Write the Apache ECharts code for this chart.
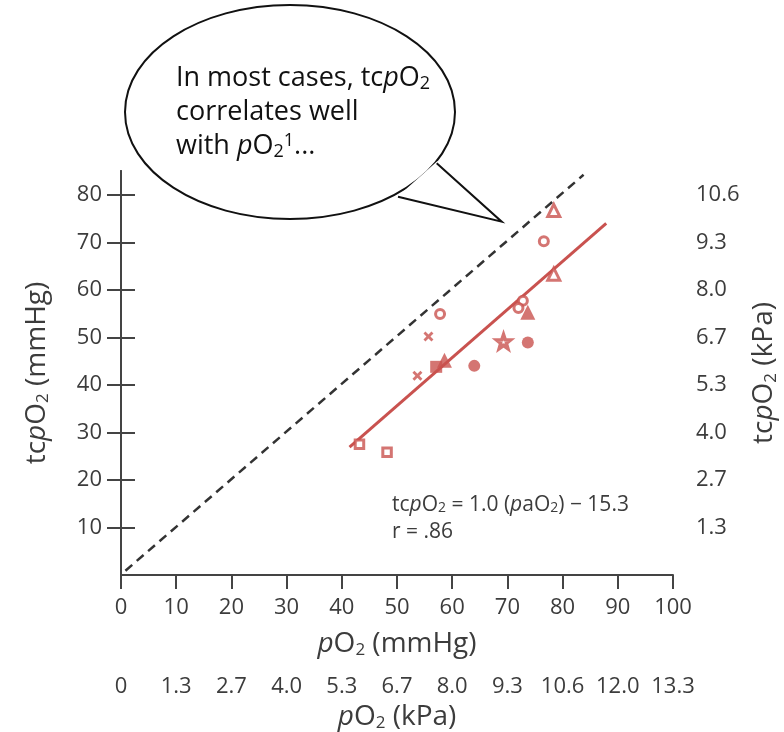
<!DOCTYPE html>
<html><head><meta charset="utf-8">
<script src="https://cdn.jsdelivr.net/npm/echarts@6/dist/echarts.min.js"></script>
<style>html,body{margin:0;padding:0;background:#fff}#c{width:784px;height:732px}</style>
</head><body><div id="c"></div>
<script>
// ---- data (x = pO2 mmHg, y = tcpO2 mmHg) ----
const openTriangle   = [[78.4, 76.7], [78.4, 63.3]];
const openCircle     = [[76.6, 70.2], [72.8, 57.7], [72.0, 56.2], [57.8, 54.9]];
const filledTriangle = [[73.7, 55.3], [58.6, 45.2]];
const crossPts       = [[55.7, 50.2], [53.7, 41.9]];
const starPts        = [[69.3, 49.1]];
const filledCircle   = [[73.7, 48.9], [64.0, 44.0]];
const filledSquare   = [[57.1, 43.8]];
const openSquare     = [[43.2, 27.5], [48.2, 25.8]];
const regressionLine = [[41.4, 26.9], [87.9, 74.0]];
const identityLine   = [[0.8, 0.9], [83.8, 84.2]];

const xTicks      = [0, 10, 20, 30, 40, 50, 60, 70, 80, 90, 100];
const xKpaLabels  = ['0', '1.3', '2.7', '4.0', '5.3', '6.7', '8.0', '9.3', '10.6', '12.0', '13.3'];
const yTicks      = [10, 20, 30, 40, 50, 60, 70, 80];
const yKpaLabels  = ['1.3', '2.7', '4.0', '5.3', '6.7', '8.0', '9.3', '10.6'];

const RED = '#c9524f';
const FONT = 'Open Sans';
const TXT = '#3c3c3c';
const AX = '#444';
const TICKFS = 22;

const crossPath = 'path://M2,0 L5,3 L8,0 L10,2 L7,5 L10,8 L8,10 L5,7 L2,10 L0,8 L3,5 L0,2 Z';
const starPath = 'path://M10,0 L12.35,6.76 L19.51,6.91 L13.80,11.24 L15.88,18.09 L10,14 L4.12,18.09 L6.20,11.24 L0.49,6.91 L7.65,6.76 Z';

const nameRich = (fs) => ({
  i: {fontStyle: 'italic', fontSize: fs, fontFamily: FONT, color: TXT},
  n: {fontSize: fs, fontFamily: FONT, color: TXT},
  sub: {fontSize: Math.round(fs * 0.62), fontFamily: FONT, color: TXT, padding: [Math.round(fs*0.45), 0, 0, 0]}
});

const chart = echarts.init(document.getElementById('c'), null, {renderer: 'canvas'});
const axisLineStyle = {show: true, lineStyle: {color: AX, width: 2}};
const tickStyle = {show: true, length: 14, lineStyle: {color: AX, width: 2}};

chart.setOption({
  animation: false,
  backgroundColor: '#fff',
  grid: {left: 121, right: 111, top: 171, bottom: 157, containLabel: false, outerBoundsMode: 'none'},
  xAxis: [{
    type: 'value', min: 0, max: 100, interval: 10, position: 'bottom',
    axisLine: axisLineStyle, axisTick: tickStyle, splitLine: {show: false},
    axisLabel: {customValues: xTicks, margin: 22, fontSize: TICKFS, fontFamily: FONT, color: TXT},
    name: '{i|p}{n|O}{sub|2}{n| (mmHg)}', nameLocation: 'middle', nameGap: 54,
    nameTextStyle: {rich: nameRich(28)}
  }, {
    type: 'value', min: 0, max: 100, interval: 10, position: 'bottom', offset: 79,
    axisLine: {show: false}, axisTick: {show: false}, splitLine: {show: false},
    axisLabel: {customValues: xTicks, margin: 22, fontSize: TICKFS, fontFamily: FONT, color: TXT,
      formatter: (v) => xKpaLabels[xTicks.indexOf(v)]},
    name: '{i|p}{n|O}{sub|2}{n| (kPa)}', nameLocation: 'middle', nameGap: 46,
    nameTextStyle: {rich: nameRich(28)}
  }],
  yAxis: [{
    type: 'value', min: 0, max: 85, position: 'left',
    axisLine: axisLineStyle, axisTick: Object.assign({customValues: yTicks}, tickStyle), splitLine: {show: false},
    axisLabel: {customValues: yTicks, margin: 19, fontSize: TICKFS, fontFamily: FONT, color: TXT},
    name: '{n|tc}{i|p}{n|O}{sub|2}{n| (mmHg)}', nameLocation: 'middle', nameGap: 69, nameRotate: 90,
    nameTextStyle: {rich: nameRich(28)}
  }, {
    type: 'value', min: 0, max: 85, position: 'right',
    axisLine: axisLineStyle, axisTick: Object.assign({customValues: yTicks}, tickStyle), splitLine: {show: false},
    axisLabel: {customValues: yTicks, margin: 23, fontSize: TICKFS, fontFamily: FONT, color: TXT,
      formatter: (v) => yKpaLabels[yTicks.indexOf(v)]},
    name: '{n|tc}{i|p}{n|O}{sub|2}{n| (kPa)}', nameLocation: 'middle', nameGap: 65, nameRotate: 90,
    nameTextStyle: {rich: nameRich(28)}
  }],
  series: [
    {type: 'line', data: identityLine, symbol: 'none', lineStyle: {color: '#333', width: 2.5, type: [9, 6]}, z: 1},
    {type: 'line', data: regressionLine, symbol: 'none', lineStyle: {color: RED, width: 3}, z: 2},
    {type: 'scatter', data: openTriangle, symbol: 'triangle', symbolSize: 12, itemStyle: {color: '#fff', borderColor: RED, borderWidth: 3}, z: 3},
    {type: 'scatter', data: openCircle, symbol: 'circle', symbolSize: 9, itemStyle: {color: '#fff', borderColor: RED, borderWidth: 3}, z: 3},
    {type: 'scatter', data: filledTriangle, symbol: 'triangle', symbolSize: 15, itemStyle: {color: RED}, z: 3},
    {type: 'scatter', data: crossPts, symbol: crossPath, symbolSize: 10, itemStyle: {color: RED}, z: 3},
    {type: 'scatter', data: starPts, symbol: starPath, symbolSize: 14, itemStyle: {color: '#fff', borderColor: RED, borderWidth: 3.5}, z: 3},
    {type: 'scatter', data: filledCircle, symbol: 'circle', symbolSize: 12, itemStyle: {color: RED}, z: 3},
    {type: 'scatter', data: filledSquare, symbol: 'rect', symbolSize: 12, itemStyle: {color: RED}, z: 3},
    {type: 'scatter', data: openSquare, symbol: 'rect', symbolSize: 8.5, itemStyle: {color: '#fff', borderColor: RED, borderWidth: 3}, z: 3}
  ],
  graphic: [
    {type: 'ellipse', z: 10, shape: {cx: 290, cy: 112, rx: 165, ry: 107},
      style: {fill: '#fff', stroke: '#111', lineWidth: 2}},
    {type: 'polygon', z: 11, shape: {points: [[437.5, 161], [501.7, 221.7], [396, 198]]},
      style: {fill: '#fff', stroke: null}},
    {type: 'polyline', z: 12, shape: {points: [[436.7, 163.3], [501.7, 221.7], [398, 196.7]]},
      style: {fill: null, stroke: '#111', lineWidth: 2, lineJoin: 'miter'}},
    {type: 'text', z: 13, left: 176, top: 63,
      style: {
        text: '{n|In most cases, tc}{i|p}{n|O}{sub|2}\n{n|correlates well}\n{n|with }{i|p}{n|O}{sub|2}{sup|1}{n|...}',
        rich: {
          n: {fontSize: 27, fontFamily: FONT, fill: '#111', lineHeight: 34},
          i: {fontSize: 27, fontFamily: FONT, fontStyle: 'italic', fill: '#111', lineHeight: 34},
          sub: {fontSize: 18, fontFamily: FONT, fill: '#111', lineHeight: 34, padding: [12, 0, 0, 0]},
          sup: {fontSize: 18, fontFamily: FONT, fill: '#111', lineHeight: 34, padding: [0, 0, 10, 0]}
        }
      }},
    {type: 'text', z: 11, left: 392, top: 495,
      style: {
        text: '{n|tc}{i|p}{n|O}{s|2}{n| = 1.0 (}{i|p}{n|aO}{s|2}{n|) − 15.3}\n{n|r = .86}',
        rich: {
          n: {fontSize: 21, fontFamily: FONT, fill: TXT, lineHeight: 27},
          i: {fontSize: 21, fontFamily: FONT, fontStyle: 'italic', fill: TXT, lineHeight: 27},
          s: {fontSize: 14, fontFamily: FONT, fill: TXT, lineHeight: 27, padding: [5, 0, 0, 0]}
        }
      }}
  ]
});
</script></body></html>
